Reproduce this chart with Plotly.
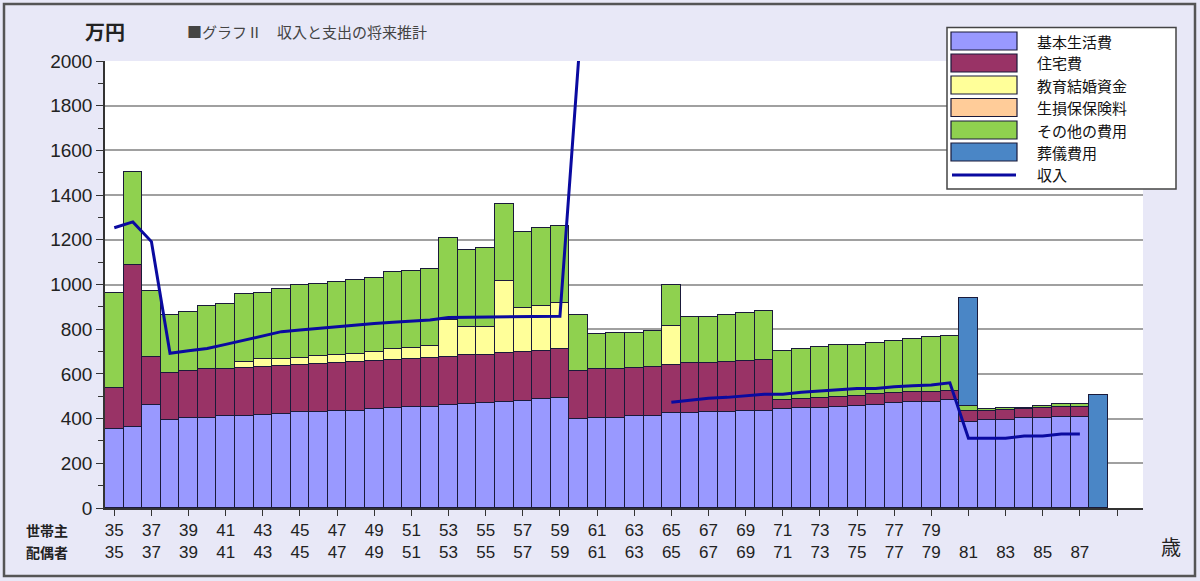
import plotly.graph_objects as go

ages = list(range(35, 89))

basic = [352, 364, 461, 394, 404, 404, 413, 413, 418, 420, 428, 428, 435, 435, 443, 446, 450, 453,
         460, 466, 468, 476, 479, 488, 494, 397, 404, 404, 412, 413, 424, 424, 428, 428, 434, 434,
         441, 446, 449, 453, 456, 461, 468, 476, 476, 483, 386, 394, 394, 401, 401, 406, 409, 0]
housing = [183, 723, 216, 209, 210, 216, 207, 213, 213, 215, 212, 215, 212, 217, 215, 216, 215, 217,
           217, 217, 218, 219, 220, 216, 217, 217, 216, 218, 216, 219, 216, 223, 220, 227, 224, 228,
           42, 42, 45, 45, 47, 48, 45, 42, 44, 42, 49, 41, 44, 40, 45, 47, 44, 0]
education = [0, 0, 0, 0, 0, 0, 0, 29, 34, 33, 33, 36, 38, 38, 40, 48, 52, 55,
             166, 128, 125, 321, 196, 199, 206, 0, 0, 0, 0, 0, 174, 0, 0, 0, 0, 0,
             0, 0, 0, 0, 0, 0, 0, 0, 0, 0, 0, 0, 0, 0, 0, 0, 0, 0]
insurance = [0] * 54
other = [428, 418, 294, 260, 264, 285, 293, 301, 298, 310, 325, 323, 328, 330, 332, 344, 343, 345,
         365, 343, 351, 344, 341, 348, 345, 249, 157, 159, 153, 160, 184, 209, 207, 208, 216, 219,
         221, 225, 228, 231, 228, 231, 234, 237, 244, 246, 21, 8, 11, 8, 10, 11, 11, 0]
funeral = [0] * 46 + [482] + [0] * 6 + [506]
income = [1254, 1280, 1192, 692, 704, 714, 732, 752, 770, 789, 796, 804, 811, 819, 826, 831, 837, 841,
          852, 853, 853, 854, 855, 856, 858, 2000, None, None, None, None, 473, 483, 491, 495, 501, 509,
          509, 518, 523, 528, 535, 535, 543, 547, 550, 560, 312, 312, 312, 322, 322, 331, 331, None]

tick_ages = list(range(35, 90, 2))
tick_text = []
for a in tick_ages:
    if a <= 79:
        tick_text.append(f"{a}<br>{a}")
    elif a <= 87:
        tick_text.append(f" <br>{a}")
    else:
        tick_text.append("")

series = [
    ("基本生活費", basic, "#9999FF"),
    ("住宅費", housing, "#993366"),
    ("教育結婚資金", education, "#FFFF99"),
    ("生損保保険料", insurance, "#FFCC99"),
    ("その他の費用", other, "#8FD14F"),
    ("葬儀費用", funeral, "#4A86C6"),
]
income_name = "収入"
income_color = "#0A0AA0"
edge_color = "#1a1a3a"

fig = go.Figure()
for name, vals, col in series:
    fig.add_trace(go.Bar(x=ages, y=vals, name=name, showlegend=False,
                         marker=dict(color=col, line=dict(color=edge_color, width=1))))

fig.add_trace(go.Scatter(x=ages, y=income, name=income_name, mode="lines", showlegend=False,
                         line=dict(color=income_color, width=3), connectgaps=False))

# plot area in pixels
L, R, T, B = 105, 1143, 61, 508
def px(x):
    return (x - L) / (R - L)
def py(y):
    return (B - y) / (B - T)

font_main = "Liberation Sans, Noto Sans CJK JP, sans-serif"
fig.update_layout(
    barmode="stack", bargap=0,
    width=1200, height=581,
    margin=dict(l=L, r=1200 - R, t=T, b=581 - B),
    paper_bgcolor="#E8E8F7", plot_bgcolor="#FFFFFF",
    font=dict(family=font_main, size=17, color="#222222"),
    showlegend=False,
    xaxis=dict(range=[34.5, 90.4], tickmode="array", tickvals=tick_ages, ticktext=tick_text,
               ticks="outside", ticklen=6, tickcolor="#333333", showline=True, linecolor="#333333",
               linewidth=1.5, showgrid=False, zeroline=False, tickangle=0,
               tickfont=dict(size=17, family=font_main)),
    yaxis=dict(range=[0, 2000], dtick=200, ticks="outside", ticklen=7, tickcolor="#333333",
               showline=True, linecolor="#333333", linewidth=1.5, showgrid=True,
               gridcolor="#A0A0A0", gridwidth=1.5, zeroline=False,
               minor=dict(dtick=100, ticks="outside", ticklen=5, tickcolor="#333333", showgrid=False),
               tickfont=dict(size=19, family=font_main)),
)

jp = "Noto Sans CJK JP, sans-serif"
def note(text, x, y, size, color="#222222", xanchor="center", align="center"):
    fig.add_annotation(text=text, x=px(x), y=py(y), xref="paper", yref="paper", showarrow=False,
                       xanchor=xanchor, yanchor="middle", align=align, borderpad=0,
                       font=dict(family=jp, size=size, color=color))

note("<b>万円</b>", 105, 32, 20)
note("■グラフⅡ　収入と支出の将来推計", 186, 32, 15, "#444444", "left")
note("<b>世帯主</b>", 47, 529.5, 14)
note("<b>配偶者</b>", 47, 551.5, 14)
note("歳", 1171, 546, 20)

# outer frame
fig.add_shape(type="rect", xref="paper", yref="paper", x0=px(4), x1=px(1195), y0=py(576), y1=py(4),
              line=dict(color="#555555", width=2.5), layer="below")

# legend box (drawn)
fig.add_shape(type="rect", xref="paper", yref="paper", x0=px(947), x1=px(1176), y0=py(189), y1=py(27.5),
              line=dict(color="#444444", width=1.5), fillcolor="#FFFFFF", layer="above")
row_y = [41, 63, 85, 107.5, 130, 152]
for (name, vals, col), yc in zip(series, row_y):
    fig.add_shape(type="rect", xref="paper", yref="paper", x0=px(951), x1=px(1017),
                  y0=py(yc + 9), y1=py(yc - 9), fillcolor=col, line=dict(color=edge_color, width=1.2),
                  layer="above")
    note(name, 1036, yc, 15, "#111111", "left", "left")
fig.add_shape(type="line", xref="paper", yref="paper", x0=px(952), x1=px(1016), y0=py(175), y1=py(175),
              line=dict(color=income_color, width=3), layer="above")
note(income_name, 1036, 174.5, 15, "#111111", "left", "left")

fig.write_html("out.html")
